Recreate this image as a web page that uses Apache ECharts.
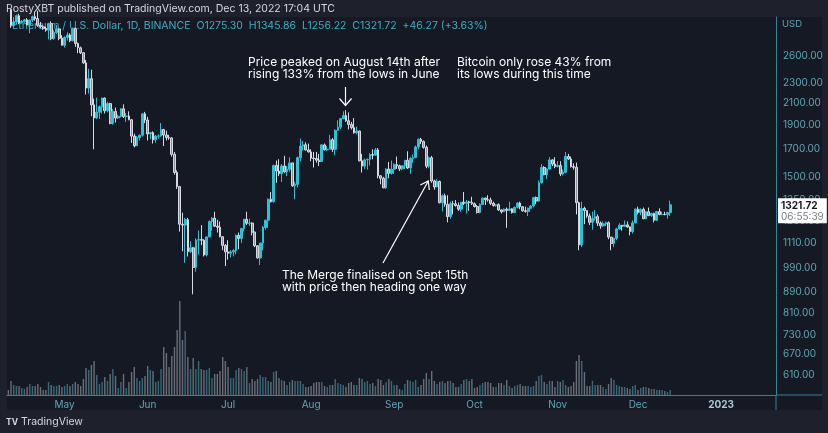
<!DOCTYPE html>
<html><head><meta charset="utf-8">
<script src="https://cdn.jsdelivr.net/npm/echarts@6/dist/echarts.min.js"></script>
<style>html,body{margin:0;padding:0;background:#1e212c;}#c{width:828px;height:433px;}</style>
</head><body><div id="c"></div>
<script>
// ---- data (ETH/USD daily, Binance), index 0 = 2022-04-10 ----
const firstDay = '2022-04-10';
const axisDays = 287; // axis runs to 2023-01-21
const opens = [
3262,3210,2980,3030,3118,3020,3040,3060,2990,3057,3104,3078,2985,2965,2940,2920,3008,2810,2890,2937,2815,
2727,2825,2857,2783,2940,2749,2695,2636,2518,2245,2343,2080,1960,2012,2063,2145,2025,2092,1913,2018,1960,1975,2043,1972,1977,1944,1805,1727,1792,1812,1997,
1942,1823,1834,1775,1805,1806,1859,1814,1793,1790,1662,1530,1435,1210,1205,1235,1068,1087,994,1125,1128,1125,1052,1142,1225,1243,1199,1193,1143,1099,
1067,1060,1067,1074,1150,1134,1186,1237,1215,1216,1167,1097,1038,1111,1192,1232,1355,1340,1580,1540,1521,1576,1535,1552,1598,1440,1450,1636,1725,1735,1695,
1680,1633,1630,1618,1609,1734,1697,1700,1775,1700,1853,1880,1955,1982,1935,1903,1876,1832,1847,1613,1575,1620,1625,1660,1655,1695,1507,1490,1427,1554,1524,
1553,1586,1577,1556,1577,1617,1562,1632,1636,1718,1780,1761,1715,1574,1636,1472,1433,1469,1334,1377,1324,1252,1328,1327,1317,1295,1336,1330,1338,1336,
1328,1311,1276,1323,1362,1352,1351,1330,1317,1322,1291,1280,1295,1288,1297,1275,1306,1332,1310,1286,1282,1300,1314,1365,1344,1460,1565,1515,1554,1620,1590,
1572,1579,1520,1531,1645,1627,1571,1567,1334,1101,1300,1287,1256,1220,1242,1252,1216,1201,1212,1218,1141,1108,1135,1184,1204,1198,1206,1195,1170,1217,
1295,1276,1294,1240,1280,1258,1270,1232,1281,1264,1265,1264,1275.30];
const highs = [
3305,3215,3100,3135,3145,3057,3075,3085,3063,3120,3175,3190,3030,2980,2965,3020,3040,2920,2990,2950,2855,
2840,2890,2880,2955,2955,2760,2710,2640,2550,2450,2440,2140,2150,2075,2150,2150,2110,2100,2040,2055,1990,2050,2085,2005,2020,1950,1825,1805,1818,2005,2015,
1970,1840,1845,1815,1820,1915,1865,1850,1815,1795,1680,1545,1440,1275,1245,1245,1120,1090,1135,1175,1205,1130,1145,1230,1250,1280,1235,1225,1145,1105,
1125,1075,1080,1155,1165,1190,1240,1280,1240,1220,1170,1100,1110,1200,1235,1360,1400,1585,1615,1625,1590,1650,1575,1640,1600,1465,1645,1785,1765,1755,1745,
1700,1680,1680,1665,1740,1745,1725,1815,1790,1860,1940,1960,2020,2030,2010,1925,1960,1885,1850,1665,1630,1630,1670,1700,1710,1710,1512,1500,1560,1605,1615,
1595,1645,1585,1580,1620,1685,1640,1660,1730,1785,1790,1770,1730,1645,1650,1480,1485,1475,1385,1390,1380,1340,1345,1350,1335,1340,1400,1350,1345,1370,
1335,1320,1330,1365,1365,1380,1365,1340,1325,1330,1295,1300,1305,1340,1300,1310,1335,1340,1312,1310,1305,1318,1370,1372,1475,1590,1575,1560,1640,1625,1640,
1610,1610,1550,1680,1665,1645,1595,1600,1340,1340,1310,1290,1270,1280,1290,1265,1225,1225,1225,1225,1142,1138,1190,1215,1205,1230,1225,1198,1230,1300,
1310,1300,1305,1285,1305,1275,1275,1285,1300,1280,1280,1280,1345.86];
const lows = [
3195,2950,2960,3000,3000,3010,3020,2985,2880,3030,3050,2965,2950,2925,2900,2800,2790,2795,2870,2790,2722,
2700,2785,2765,2775,2705,2630,2620,2505,2180,2190,1975,1700,1950,1950,2000,2000,2010,1905,1900,1920,1950,1965,1960,1925,1940,1750,1715,1725,1770,1802,1915,
1770,1780,1745,1750,1785,1800,1725,1770,1775,1645,1515,1420,1170,1070,1015,1045,1062,880,975,1055,1100,1045,1045,1140,1175,1195,1165,1140,1075,1000,
1030,1040,1045,1055,1080,1110,1170,1205,1200,1150,1090,1035,1005,1075,1180,1190,1335,1335,1460,1505,1465,1525,1505,1535,1435,1355,1430,1610,1690,1690,1675,
1610,1565,1600,1575,1605,1690,1685,1700,1680,1655,1850,1865,1950,1925,1860,1860,1825,1820,1610,1530,1555,1550,1580,1625,1650,1490,1450,1425,1420,1490,1515,
1520,1555,1540,1545,1555,1555,1520,1600,1635,1700,1740,1705,1560,1560,1460,1415,1430,1330,1282,1310,1220,1240,1265,1310,1285,1280,1320,1270,1285,1320,
1305,1270,1270,1320,1320,1340,1320,1310,1310,1285,1270,1280,1190,1285,1270,1274,1300,1295,1280,1275,1255,1295,1305,1325,1340,1455,1510,1485,1550,1575,1560,
1565,1505,1510,1525,1620,1565,1550,1265,1075,1090,1210,1245,1205,1180,1230,1200,1185,1195,1200,1130,1075,1090,1125,1180,1175,1195,1190,1150,1160,1215,
1265,1260,1238,1238,1255,1250,1220,1228,1260,1260,1260,1240,1256.22];
const closes = [
3210,2980,3030,3118,3020,3040,3060,2990,3057,3104,3078,2985,2965,2940,2920,3008,2810,2890,2937,2815,2727,
2825,2857,2783,2940,2749,2695,2636,2518,2245,2343,2080,1960,2012,2063,2145,2025,2092,1913,2018,1960,1975,2043,1972,1977,1944,1805,1727,1792,1812,1997,1942,
1823,1834,1775,1805,1806,1859,1814,1793,1790,1662,1530,1435,1210,1205,1235,1068,1087,994,1125,1128,1125,1052,1142,1225,1243,1199,1193,1143,1099,1067,
1060,1067,1074,1150,1134,1186,1237,1215,1216,1167,1097,1038,1111,1192,1232,1355,1340,1580,1540,1521,1576,1535,1552,1598,1440,1450,1636,1725,1735,1695,1680,
1633,1630,1618,1609,1734,1697,1700,1775,1700,1853,1880,1955,1982,1935,1903,1876,1832,1847,1613,1575,1620,1625,1660,1655,1695,1507,1490,1427,1554,1524,1553,
1586,1577,1556,1577,1617,1562,1632,1636,1718,1780,1761,1715,1574,1636,1472,1433,1469,1334,1377,1324,1252,1328,1327,1317,1295,1336,1330,1338,1336,1328,
1311,1276,1323,1362,1352,1351,1330,1317,1322,1291,1280,1295,1288,1297,1275,1306,1332,1310,1286,1282,1300,1314,1365,1344,1460,1565,1515,1554,1620,1590,1572,
1579,1520,1531,1645,1627,1571,1567,1334,1101,1300,1287,1256,1220,1242,1252,1216,1201,1212,1218,1141,1108,1135,1184,1204,1198,1206,1195,1170,1217,1295,
1276,1294,1240,1280,1258,1270,1232,1281,1264,1265,1264,1275,1321.72];
const volumes = [
5,14,10,9,9,7,6,8,11,9,9,11,8,5,5,13,10,9,9,10,8,
9,11,9,11,13,11,9,16,27,25,30,34,20,11,13,18,14,21,26,19,7,13,21,7,13,23,28,17,14,17,19,
29,25,24,13,14,26,48,42,28,39,48,65,94,55,64,38,26,37,26,34,26,25,25,27,17,21,21,24,38,34,
28,17,17,25,27,26,24,28,12,16,14,16,20,18,18,14,13,23,24,17,15,14,10,13,15,14,14,14,11,8,8,
9,12,13,13,13,9,8,10,10,16,12,11,10,8,12,13,10,10,17,16,13,14,11,12,9,16,15,10,13,16,14,
10,10,6,5,11,15,14,13,15,8,10,16,22,16,24,14,11,13,14,12,14,14,12,8,8,11,15,16,14,16,
7,8,10,12,13,13,12,8,8,12,12,10,15,9,7,9,10,11,9,9,9,8,9,14,19,20,13,11,14,14,8,
14,13,15,10,8,9,13,34,40,34,23,9,9,14,10,10,10,8,6,11,17,15,10,9,8,8,7,6,9,10,
5,7,8,8,7,6,6,5,5,5,4,3,5];
const priceTicks = [610,670,730,810,890,990,1110,1230,1350,1500,1700,1900,2100,2300,2600];
const monthNames = ['2023','Feb','Mar','Apr','May','Jun','Jul','Aug','Sep','Oct','Nov','Dec'];
const lastPrice = 1321.72, countdown = '06:55:39';

// ---- build ----
const categories = [];
{ const p = firstDay.split('-').map(Number);
  for (let i = 0; i < axisDays; i++) categories.push(new Date(Date.UTC(p[0], p[1]-1, p[2]+i)).toISOString().slice(0,10)); }
const candleData = closes.map((c,i)=>[opens[i], c, lows[i], highs[i]]);
const UP='#29c3d8', DOWN='#8d9099', DOWNB='#d8dbe2';
const volData = volumes.map((v,i)=>({value:v, itemStyle:{color: closes[i]>=opens[i] ? 'rgba(62,128,142,0.8)' : 'rgba(128,131,140,0.8)'}}));
const TEAL='#2c8799', LBL='#5ea7b7';
const FONT='Inter, "Noto Sans", sans-serif';

const chart = echarts.init(document.getElementById('c'));
chart.setOption({
  animation:false,
  backgroundColor:'#1e212c',
  grid:[{left:7,right:52,top:17,bottom:38},{left:7,right:52,top:295,bottom:38}],
  xAxis:[
    {type:'category',gridIndex:0,data:categories,boundaryGap:true,axisLine:{show:false},axisTick:{show:false},axisLabel:{show:false},splitLine:{show:false}},
    {type:'category',gridIndex:1,data:categories,boundaryGap:true,
     axisLine:{show:true,lineStyle:{color:TEAL,width:1}},axisTick:{show:false},splitLine:{show:false},
     axisLabel:{interval:(i,v)=>v.slice(8)==='01',margin:5,color:LBL,fontSize:10,fontFamily:FONT,
       formatter:v=>{const m=+v.slice(5,7)-1;return m===0?'{y|'+monthNames[0]+'}':monthNames[m];},
       rich:{y:{color:'#a9c9d3',fontWeight:'bold',fontSize:10,fontFamily:FONT}}}}
  ],
  yAxis:[
    {type:'log',gridIndex:0,position:'right',min:557,max:3100,
     axisLine:{show:true,lineStyle:{color:TEAL,width:1}},axisTick:{show:false},splitLine:{show:false},
     axisLabel:{customValues:priceTicks,formatter:v=>Number(v).toFixed(2),color:LBL,fontSize:10,fontFamily:FONT,margin:7}},
    {type:'value',gridIndex:1,min:0,max:100,show:false,splitLine:{show:false}}
  ],
  graphic:[
    {type:'rect',z:-10,silent:true,shape:{x:7,y:17,width:815,height:393},style:{fill:'#151924'}},
    {type:'line',silent:true,shape:{x1:776,y1:395,x2:822,y2:395},style:{stroke:TEAL,lineWidth:1}},
    {type:'line',silent:true,shape:{x1:776,y1:395,x2:776,y2:410},style:{stroke:TEAL,lineWidth:1}},
    {type:'text',x:6,y:9,style:{text:'PostyXBT published on TradingView.com, Dec 13, 2022 17:04 UTC',fill:'#d6d8de',font:'10.5px '+FONT,verticalAlign:'middle'}},
    {type:'text',x:12,y:26,z:1,style:{text:'Ethereum / U.S. Dollar, 1D, BINANCE  O1275.30  H1345.86  L1256.22  C1321.72  +46.27 (+3.63%)',fill:'#3eaec4',font:'10.5px '+FONT,verticalAlign:'middle'}},
    {type:'text',x:782,y:24,style:{text:'USD',fill:LBL,font:'9.5px '+FONT,verticalAlign:'middle'}},
    {type:'text',x:6,y:422,style:{text:'TV',fill:'#d6d8de',font:'bold 8.5px '+FONT,verticalAlign:'middle'}},
    {type:'text',x:21,y:422,style:{text:'TradingView',fill:'#d6d8de',font:'10.5px '+FONT,verticalAlign:'middle'}},
    {type:'text',x:248,y:62.5,style:{text:'Price peaked on August 14th after',fill:'#ffffff',font:'12px '+FONT,verticalAlign:'middle'}},
    {type:'text',x:248,y:74.5,style:{text:'rising 133% from the lows in June',fill:'#ffffff',font:'12px '+FONT,verticalAlign:'middle'}},
    {type:'text',x:457,y:62.5,style:{text:'Bitcoin only rose 43% from',fill:'#ffffff',font:'12px '+FONT,verticalAlign:'middle'}},
    {type:'text',x:457,y:74.5,style:{text:'its lows during this time',fill:'#ffffff',font:'12px '+FONT,verticalAlign:'middle'}},
    {type:'text',x:282,y:275.5,style:{text:'The Merge finalised on Sept 15th',fill:'#ffffff',font:'12px '+FONT,verticalAlign:'middle'}},
    {type:'text',x:282,y:287.5,style:{text:'with price then heading one way',fill:'#ffffff',font:'12px '+FONT,verticalAlign:'middle'}},
    {type:'line',silent:true,shape:{x1:345.5,y1:87,x2:345.5,y2:105},style:{stroke:'#fff',lineWidth:1.2}},
    {type:'polyline',silent:true,shape:{points:[[339.5,98.5],[345.5,105.5],[351.5,98.5]]},style:{stroke:'#fff',lineWidth:1.2,fill:null}},
    {type:'line',silent:true,shape:{x1:383,y1:263,x2:428.3,y2:181},style:{stroke:'#fff',lineWidth:1.2}},
    {type:'polyline',silent:true,shape:{points:[[420.3,185],[428.3,181],[429.3,190]]},style:{stroke:'#fff',lineWidth:1.2,fill:null}}
  ],
  series:[
    {type:'candlestick',xAxisIndex:0,yAxisIndex:0,data:candleData,barWidth:2.2,
     itemStyle:{color:UP,color0:DOWN,borderColor:UP,borderColor0:DOWNB,borderWidth:1},
     markLine:{symbol:'none',silent:true,lineStyle:{color:'rgba(0,0,0,0)',width:0},
       data:[{yAxis:lastPrice}],
       label:{show:true,position:'end',distance:2,offset:[0,6],formatter:'{p|'+lastPrice.toFixed(2)+'}\n{t|'+countdown+'}',
         backgroundColor:'#ffffff',padding:[2,3,1,3],
         rich:{p:{color:'#131722',fontSize:10,fontWeight:'bold',lineHeight:11,fontFamily:FONT},t:{color:'#787b86',fontSize:10,lineHeight:11,fontFamily:FONT}}}}},
    {type:'bar',xAxisIndex:1,yAxisIndex:1,data:volData,barWidth:1.4}
  ]
});
</script></body></html>
